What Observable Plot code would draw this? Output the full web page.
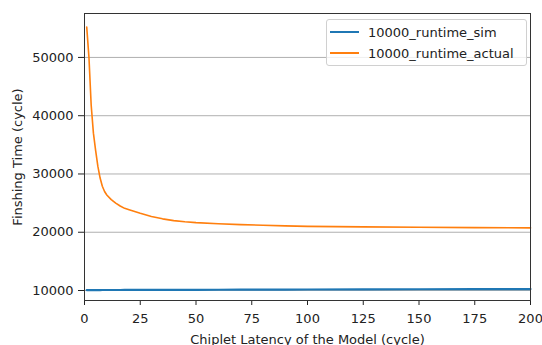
<!DOCTYPE html>
<html>
<head>
<meta charset="utf-8">
<script src="https://cdn.jsdelivr.net/npm/d3@7"></script>
<script src="https://cdn.jsdelivr.net/npm/@observablehq/plot@0.6"></script>
<style>
  html, body { margin: 0; padding: 0; background: #fff; }
  #wrap { position: relative; width: 542px; height: 345px; font-family: "DejaVu Sans", sans-serif; overflow: hidden; }
  #legend { position: absolute; left: 326px; top: 19px; width: 201px; height: 47px;
    border: 1px solid #d0d0d0; border-radius: 3px; background: rgba(255,255,255,0.8);
    font-size: 13px; color: #222; box-sizing: border-box; }
  .item { position: absolute; left: 3px; height: 16px; display: flex; align-items: center; }
  .sw { width: 29px; height: 0; border-top: 2px solid; margin-right: 9px; }
</style>
</head>
<body>
<div id="wrap"></div>
<script>
const latency = [1,2,3,4,5,6,7,8,9,10,12,14,16,18,20,25,30,35,40,45,50,60,70,80,90,100,125,150,175,200];
const runtimeActual = [55200,50000,41800,37000,34000,31300,29300,27900,27000,26400,25600,25000,24500,24100,23850,23250,22700,22300,22000,21800,21650,21450,21300,21200,21100,21000,20920,20850,20800,20750];
const runtimeSim = [10070,10070,10075,10075,10080,10080,10080,10085,10085,10085,10090,10090,10090,10095,10095,10100,10105,10110,10115,10120,10125,10135,10145,10155,10160,10170,10195,10215,10235,10255];
const seriesNames = ["10000_runtime_sim", "10000_runtime_actual"];
const colors = ["#1f77b4", "#ff7f0e"];
const xTicks = [0,25,50,75,100,125,150,175,200];
const yTicks = [10000,20000,30000,40000,50000];

const rows = [];
latency.forEach((x, i) => {
  rows.push({x, y: runtimeSim[i], s: seriesNames[0]});
});
latency.forEach((x, i) => {
  rows.push({x, y: runtimeActual[i], s: seriesNames[1]});
});

const chart = Plot.plot({
  width: 542,
  height: 345,
  marginLeft: 84,
  marginRight: 12,
  marginTop: 13,
  marginBottom: 45,
  style: { fontFamily: "DejaVu Sans, sans-serif", fontSize: "13px", color: "#222", background: "#fff", overflow: "visible" },
  x: { domain: [0, 200] },
  y: { domain: [8286, 57540] },
  color: { domain: seriesNames, range: colors },
  marks: [
    Plot.gridY(yTicks, { stroke: "#b0b0b0", strokeOpacity: 1, strokeWidth: 1 }),
    Plot.axisX(xTicks, { tickSize: 5, tickPadding: 8, label: "Chiplet Latency of the Model (cycle)", labelAnchor: "center", labelArrow: "none", labelOffset: 43 }),
    Plot.axisY(yTicks, { tickSize: 6, tickPadding: 5, tickFormat: d => String(d), label: "Finshing Time (cycle)", labelAnchor: "center", labelArrow: "none", labelOffset: 72 }),
    Plot.line(rows.filter(d => d.s === seriesNames[0]), { x: "x", y: "y", stroke: "s", strokeWidth: 2.2 }),
    Plot.line(rows.filter(d => d.s === seriesNames[1]), { x: "x", y: "y", stroke: "s", strokeWidth: 1.6 }),
    Plot.frame({ stroke: "#333", strokeWidth: 1 })
  ]
});
const wrap = document.getElementById("wrap");
wrap.appendChild(chart);

const legend = document.createElement("div");
legend.id = "legend";
seriesNames.forEach((name, i) => {
  const item = document.createElement("div");
  item.className = "item";
  item.style.top = (4 + i * 21) + "px";
  const sw = document.createElement("span");
  sw.className = "sw";
  sw.style.borderColor = colors[i];
  item.appendChild(sw);
  const t = document.createElement("span");
  t.textContent = name;
  item.appendChild(t);
  legend.appendChild(item);
});
wrap.appendChild(legend);
</script>
</body>
</html>
